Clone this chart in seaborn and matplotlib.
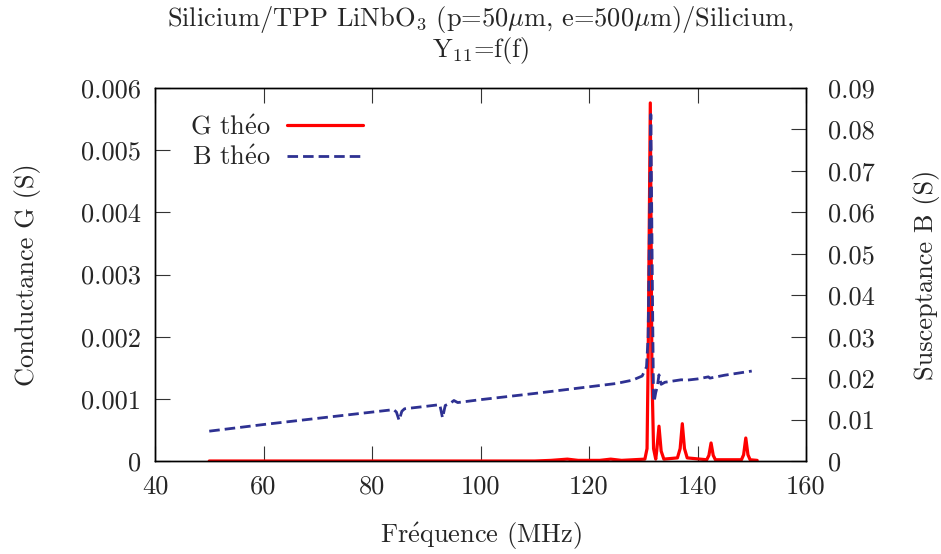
import numpy as np
import pandas as pd
import matplotlib
matplotlib.use("Agg")
import matplotlib.pyplot as plt
from matplotlib.ticker import FuncFormatter
import seaborn as sns

# =================================================================
# Data
# =================================================================
freq_g = [50, 110, 113, 116, 118, 122, 124, 126, 130.3, 130.7, 130.9, 131.3, 131.6, 131.9,
          132.3, 132.5, 132.9, 133.3, 133.8, 136.3, 136.8, 137.2, 137.6, 138.1, 141.7,
          142.1, 142.5, 142.9, 143.3, 148.1, 148.5, 148.9, 149.3, 149.7, 151]
g_theo = [0, 0, 0.00001, 0.00003, 0.00001, 0.00001, 0.00003, 0.00001, 0.00003, 0.0002,
          0.0016, 0.00576, 0.0014, 0.0002, 0.00003, 0.00018, 0.00056, 0.00016, 0.00003,
          0.00005, 0.0002, 0.0006, 0.0002, 0.00005, 0.00002, 0.00009, 0.00029, 0.00009,
          0.00002, 0.00002, 0.0001, 0.00037, 0.0001, 0.00002, 0.00001]

freq_b = [50, 60, 70, 80, 84, 84.5, 85.0, 85.5, 86, 90, 92.5, 93.0, 93.5, 94.5, 95.1,
          95.8, 100, 110, 120, 125, 128, 129.8, 130.6, 130.9, 131.4, 131.7, 131.9, 132.1,
          132.3, 132.6, 132.9, 133.3, 134, 137, 138, 140, 142, 142.3, 145, 150]
b_theo = [0.0072, 0.0088, 0.0103, 0.0118, 0.0124, 0.0118, 0.0098, 0.0120, 0.0126, 0.0132,
          0.0136, 0.0104, 0.0134, 0.0140, 0.0146, 0.0141, 0.0148, 0.0163, 0.0179, 0.0187,
          0.0195, 0.0205, 0.0227, 0.0300, 0.0836, 0.0400, 0.0143, 0.0150, 0.0165, 0.0180,
          0.0208, 0.0185, 0.0190, 0.0196, 0.0195, 0.0198, 0.0203, 0.0200, 0.0207, 0.0217]

x_ticks = [40, 60, 80, 100, 120, 140, 160]
g_ticks = [0, 0.001, 0.002, 0.003, 0.004, 0.005, 0.006]
b_ticks = [0, 0.01, 0.02, 0.03, 0.04, 0.05, 0.06, 0.07, 0.08, 0.09]

df_g = pd.DataFrame({"f": freq_g, "G": g_theo})
df_b = pd.DataFrame({"f": freq_b, "B": b_theo})

# =================================================================
# Style
# =================================================================
sns.set_style("ticks")
plt.rcParams["font.family"] = ["cmr10", "DejaVu Serif"]
plt.rcParams["mathtext.fontset"] = "cm"
plt.rcParams["axes.formatter.use_mathtext"] = True
fs = 19
e_acute = r"$\mathrm{\acute{e}}$"
mu = r"$\mathrm{\mu}$"

fig = plt.figure(figsize=(9.41, 5.54), dpi=100)
ax = fig.add_axes([155 / 941, 1 - 461 / 554, 651 / 941, 373 / 554])
ax2 = ax.twinx()

sns.lineplot(data=df_g, x="f", y="G", ax=ax, color="#ff0000", linewidth=2.3,
             label=f"G th{e_acute}o", legend=False)
sns.lineplot(data=df_b, x="f", y="B", ax=ax2, color="#2e3192", linewidth=2.0,
             dashes=False, label=f"B th{e_acute}o", legend=False)
ax2.lines[0].set_linestyle((0, (3.8, 1.8)))

ax.set_xlim(40, 160)
ax.set_ylim(0, 0.006)
ax2.set_ylim(0, 0.09)
ax.set_xticks(x_ticks)
ax.set_yticks(g_ticks)
ax2.set_yticks(b_ticks)
fmt = FuncFormatter(lambda v, _: f"{v:g}")
ax.yaxis.set_major_formatter(fmt)
ax2.yaxis.set_major_formatter(fmt)
ax.xaxis.set_major_formatter(fmt)

ax.tick_params(axis="both", direction="in", length=11, width=0.8, labelsize=fs,
               top=True, right=False, pad=10, color="#333333")
ax2.tick_params(axis="y", direction="in", length=11, width=0.8, labelsize=fs,
                pad=16, color="#333333")
for a in (ax, ax2):
    for s in a.spines.values():
        s.set_linewidth(1.0)
        s.set_color("black")

ax.set_xlabel(f"Fr{e_acute}quence (MHz)", fontsize=fs, labelpad=16)
ax.set_ylabel("Conductance G (S)", fontsize=fs, labelpad=29)
ax2.set_ylabel("Susceptance B (S)", fontsize=fs, labelpad=27)
ax.set_title(f"Silicium/TPP LiNbO$_3$ (p=50{mu}m, e=500{mu}m)/Silicium,\nY$_{{11}}$=f(f)",
             fontsize=fs, linespacing=1.0, pad=22)

h1, l1 = ax.get_legend_handles_labels()
h2, l2 = ax2.get_legend_handles_labels()
ax2.legend(h1 + h2, l1 + l2, loc="upper left", bbox_to_anchor=(0.03, 0.97),
           frameon=False, markerfirst=False, fontsize=fs, handlelength=2.9,
           handletextpad=0.6, labelspacing=0.25, borderaxespad=0.2)

fig.savefig("out.png", dpi=100)
